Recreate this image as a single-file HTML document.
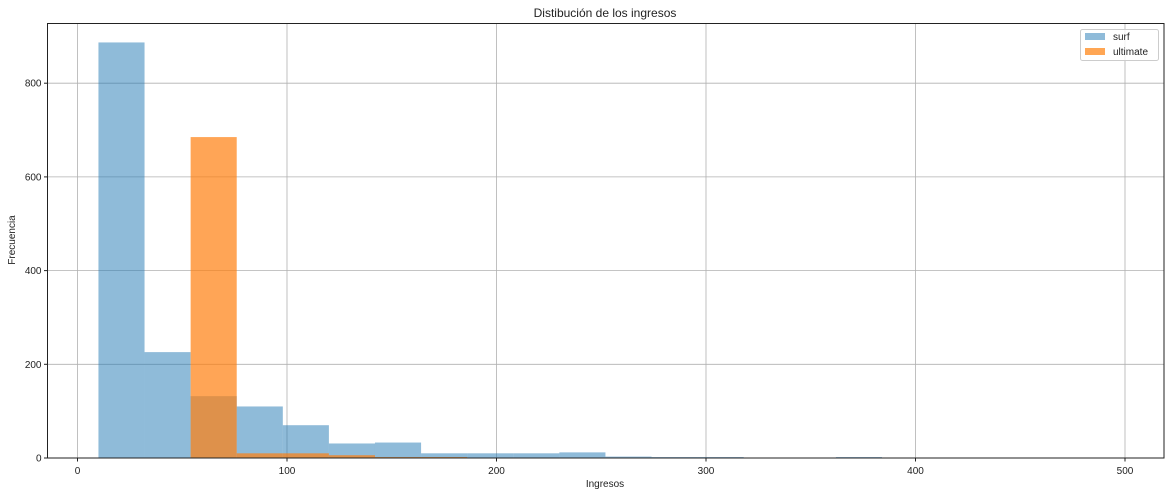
<!DOCTYPE html>
<html><head><meta charset="utf-8"><style>
body{margin:0;background:#fff;font-family:"Liberation Sans",sans-serif}
svg text{font-family:"Liberation Sans",sans-serif;fill:#222}
</style></head><body>
<svg id="c" width="1170" height="496"></svg>
<script>
const binStart=10, binWidth=22;
const surfCounts=[887,226,132,110,70,31,33,10,10,10,12,3,2,2,0,0,2];
const ultBinStartIndex=2;
const ultimateCounts=[685,10,10,6,2,2];
const xTicks=[0,100,200,300,400,500];
const yTicks=[0,200,400,600,800];
const L=47.5,R=1164,T=23.5,B=458;
const X=v=>77.5+v*2.095;
const Y=v=>B-v*0.4685;
const s=document.getElementById('c');
const NS='http://www.w3.org/2000/svg';
function mk(t,a,p){const e=document.createElementNS(NS,t);for(const k in a)e.setAttribute(k,a[k]);(p||s).appendChild(e);return e;}
xTicks.forEach(t=>{const g=mk('line',{x1:X(t),x2:X(t),y1:T,y2:B,stroke:'#b0b0b0','stroke-width':0.8});

mk('line',{x1:X(t),x2:X(t),y1:B,y2:B+3.5,stroke:'#222'});
const tx=mk('text',{x:X(t),y:B+16,'font-size':10,'text-anchor':'middle'});tx.textContent=t;
});
yTicks.forEach(t=>{const g=mk('line',{x1:L,x2:R,y1:Y(t),y2:Y(t),stroke:'#b0b0b0','stroke-width':0.8});

mk('line',{x1:L-3.5,x2:L,y1:Y(t),y2:Y(t),stroke:'#222'});
const tx=mk('text',{x:L-6,y:Y(t)+3.5,'font-size':10,'text-anchor':'end'});tx.textContent=t;
});
surfCounts.forEach((c,i)=>{if(!c)return;const x0=X(binStart+i*binWidth),x1=X(binStart+(i+1)*binWidth);
const r=mk('rect',{x:x0,y:Y(c),width:x1-x0,height:B-Y(c),fill:'#1f77b4','fill-opacity':0.5});
});
ultimateCounts.forEach((c,i)=>{const j=i+ultBinStartIndex;const x0=X(binStart+j*binWidth),x1=X(binStart+(j+1)*binWidth);
const r=mk('rect',{x:x0,y:Y(c),width:x1-x0,height:B-Y(c),fill:'#ff7f0e','fill-opacity':0.7});
});
mk('rect',{x:L,y:T,width:R-L,height:B-T,fill:'none',stroke:'#222','stroke-width':1});
</script>
<svg width="1170" height="496" style="position:absolute;left:0;top:0">
<text x="605" y="17" font-size="12" text-anchor="middle">Distibución de los ingresos</text>
<text x="605" y="487" font-size="10" text-anchor="middle">Ingresos</text>
<text x="15" y="240" font-size="10" text-anchor="middle" transform="rotate(-90 15 240)">Frecuencia</text>
<g>
<rect x="1080.5" y="29.5" width="78" height="31" rx="2" fill="#fff" fill-opacity="0.8" stroke="#ccc"/>
<rect x="1085" y="33" width="20" height="7" fill="#8fbbd9"/>
<text x="1113" y="40" font-size="10">surf</text>
<rect x="1085" y="48" width="20" height="7" fill="#ffa654"/>
<text x="1113" y="55" font-size="10">ultimate</text>
</g>
</svg>
</body></html>
